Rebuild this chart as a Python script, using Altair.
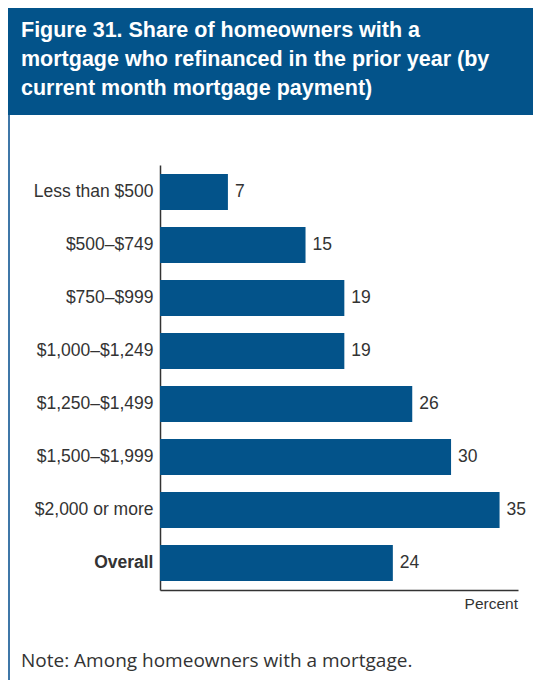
import altair as alt
import pandas as pd

categories = ["Less than $500", "$500–$749", "$750–$999", "$1,000–$1,249",
              "$1,250–$1,499", "$1,500–$1,999", "$2,000 or more", "Overall"]
values = [7, 15, 19, 19, 26, 30, 35, 24]
title_lines = ["Figure 31. Share of homeowners with a",
               "mortgage who refinanced in the prior year (by",
               "current month mortgage payment)"]
note_text = "Note: Among homeowners with a mortgage."
x_label = "Percent"

BLUE = "#03538a"
df = pd.DataFrame({"cat": categories, "val": values})
one = pd.DataFrame({"a": [0]})

W, H = 358, 425
PL, PT, PR, PB = 152, 157, 15, 90

y_enc = alt.Y("cat:N", sort=categories,
              scale=alt.Scale(paddingInner=0.32, paddingOuter=0.17),
              axis=alt.Axis(title=None, ticks=False, domainColor="#333333", domainWidth=1.5,
                            labelFont="Liberation Sans", labelFontSize=17.5, labelColor="#333333",
                            labelPadding=7,
                            labelFontWeight={"condition": {"test": "datum.value == 'Overall'", "value": "bold"}, "value": "normal"}))
x_enc = alt.X("val:Q", scale=alt.Scale(domain=[0, 36.9], nice=False),
              axis=alt.Axis(title=None, labels=False, ticks=False, grid=False,
                            domainColor="#333333", domainWidth=1.5))

bars = alt.Chart(df).mark_bar(color=BLUE).encode(x=x_enc, y=y_enc)
labels = alt.Chart(df).mark_text(align="left", baseline="middle", dx=7, fontSize=17.5,
                                 font="Liberation Sans", color="#333333").encode(
    x="val:Q", y=alt.Y("cat:N", sort=categories), text="val:Q")

box = alt.Chart(one).mark_rect(color=BLUE).encode(
    x=alt.value(-PL), x2=alt.value(W + PR), y=alt.value(-PT), y2=alt.value(-50))
border = alt.Chart(one).mark_rule(color="#3f77a8", strokeWidth=2).encode(
    x=alt.value(-PL + 1), y=alt.value(-50), y2=alt.value(H + PB))
title = alt.Chart(one).mark_text(text=title_lines, align="left", baseline="alphabetic",
                                 lineHeight=29, fontSize=21.5, fontWeight="bold",
                                 font="Liberation Sans", color="white").encode(
    x=alt.value(-139), y=alt.value(-128))
pct = alt.Chart(one).mark_text(text=x_label, align="right", baseline="alphabetic",
                               fontSize=15.5, font="Liberation Sans", color="#333333").encode(
    x=alt.value(W), y=alt.value(444))
note = alt.Chart(one).mark_text(text=note_text, align="left", baseline="alphabetic",
                                fontSize=19, font="Open Sans", color="#333333").encode(
    x=alt.value(-139), y=alt.value(502))

chart = alt.layer(box, border, bars, labels, title, pct, note).properties(
    width=W, height=H,
    autosize=alt.AutoSizeParams(type="none"),
    padding={"left": PL, "top": PT, "right": PR, "bottom": PB},
    background="white",
).configure_view(stroke=None)

chart.save("out.html", embed_options={"renderer": "svg", "actions": False})
